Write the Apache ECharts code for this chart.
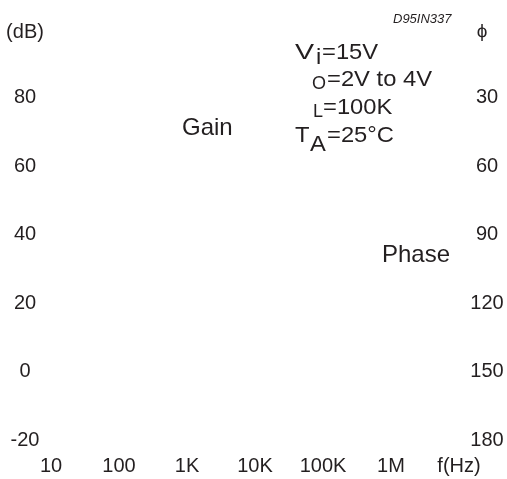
<!DOCTYPE html>
<html>
<head>
<meta charset="utf-8">
<script src="https://cdn.jsdelivr.net/npm/echarts@6/dist/echarts.min.js"></script>
<style>html,body{margin:0;padding:0;background:#fff;}#c{width:507px;height:479px;}</style>
</head>
<body>
<div id="c"></div>
<script>
var freqLabels = ['10', '100', '1K', '10K', '100K', '1M', 'f(Hz)'];
var gainTicks = [-20, 0, 20, 40, 60, 80, 100];
var gainTopLabel = '(dB)';
var phaseTicks = [0, 30, 60, 90, 120, 150, 180];
var phaseTopLabel = 'ϕ';
var gainValues = [];
var phaseValues = [];

var FONT = '"Liberation Sans", Arial, "DejaVu Sans", sans-serif';
var INK = '#231f20';

var chart = echarts.init(document.getElementById('c'), null, {renderer: 'canvas'});

function txt(x, y, s, size, extra) {
  var o = {
    type: 'text', x: x, y: y, silent: true,
    style: {text: s, fill: INK, font: (extra && extra.italic ? 'italic ' : '') + size + 'px ' + FONT,
            align: 'left', verticalAlign: 'middle'}
  };
  if (extra && extra.scaleX) { o.scaleX = extra.scaleX; }
  return o;
}
var SC = 22, SX = 1.08;
var graphics = [
  txt(393, 19, 'D95IN337', 13, {italic: true}),
  txt(182, 128, 'Gain', 24),
  txt(382, 255, 'Phase', 24),
  txt(295, 53, 'V', SC, {scaleX: 1.3}),
  txt(316, 58, 'i', SC, {scaleX: SX}),
  txt(322, 53, '=15V', SC, {scaleX: SX}),
  txt(312, 84, 'O', 18, {scaleX: 1.0}),
  txt(327, 80, '=2V to 4V', SC, {scaleX: SX}),
  txt(313, 112, 'L', 18, {scaleX: 1.0}),
  txt(323, 108, '=100K', SC, {scaleX: SX}),
  txt(295, 136, 'T', SC, {scaleX: SX}),
  txt(310, 145, 'A', SC, {scaleX: SX}),
  txt(327, 136, '=25°C', SC, {scaleX: SX})
];

var labelStyle = {color: INK, fontSize: 20, fontFamily: FONT};

chart.setOption({
  animation: false,
  backgroundColor: '#fff',
  grid: {left: 51, right: 48, top: 29, bottom: 39, containLabel: false},
  xAxis: {
    type: 'category', data: freqLabels, boundaryGap: false,
    axisLine: {show: false}, axisTick: {show: false}, splitLine: {show: false},
    axisLabel: Object.assign({margin: 16, interval: 0}, labelStyle)
  },
  yAxis: [{
    type: 'value', min: gainTicks[0], max: gainTicks[gainTicks.length - 1], interval: 20,
    axisLine: {show: false}, axisTick: {show: false}, splitLine: {show: false},
    axisLabel: Object.assign({margin: 26, align: 'center',
      formatter: function (v) { return v === gainTicks[gainTicks.length - 1] ? '{d|' + gainTopLabel + '}' : String(v); },
      rich: {d: {fontSize: 20, fontFamily: FONT, color: INK, padding: [6, 0, 0, 0]}}}, labelStyle)
  }, {
    type: 'value', position: 'right', inverse: true,
    min: phaseTicks[0], max: phaseTicks[phaseTicks.length - 1], interval: 30,
    axisLine: {show: false}, axisTick: {show: false}, splitLine: {show: false},
    axisLabel: Object.assign({margin: 28, align: 'center',
      formatter: function (v) { return v === phaseTicks[0] ? '{p|' + phaseTopLabel + '}' : String(v); },
      rich: {p: {fontSize: 19, fontFamily: FONT, color: INK, padding: [6, 10, 0, 0]}}}, labelStyle)
  }],
  series: [
    {name: 'Gain', type: 'line', yAxisIndex: 0, data: gainValues, showSymbol: false},
    {name: 'Phase', type: 'line', yAxisIndex: 1, data: phaseValues, showSymbol: false}
  ],
  graphic: graphics
});
</script>
</body>
</html>
